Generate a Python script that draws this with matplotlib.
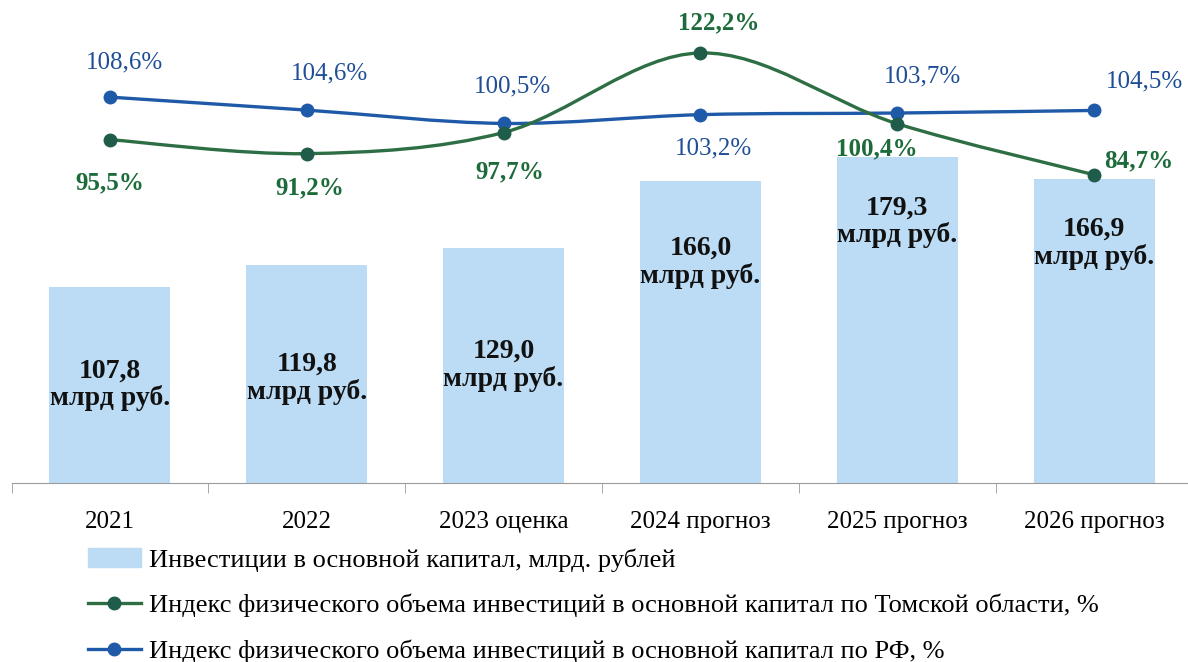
import numpy as np
import matplotlib
matplotlib.use('Agg')
import matplotlib.pyplot as plt
from matplotlib.path import Path
from matplotlib.patches import PathPatch
from matplotlib.lines import Line2D
from matplotlib.patches import Patch

plt.rcParams['font.family'] = ['Liberation Serif', 'DejaVu Serif']

# data
years = ['2021', '2022', '2023 оценка', '2024 прогноз', '2025 прогноз', '2026 прогноз']
invest = [107.8, 119.8, 129.0, 166.0, 179.3, 166.9]
tomsk_idx = [95.5, 91.2, 97.7, 122.2, 100.4, 84.7]
rf_idx = [108.6, 104.6, 100.5, 103.2, 103.7, 104.5]

# layout of labels (pixel offsets from the point)
rf_off = [(15, 35), (23, 37), (9, 37), (13, -34), (25, 37), (50, 29)]
tomsk_off = [(0, -43), (3, -34), (6, -39), (18, 30), (-20, -25), (45, 14)]
bar_lab_frac = [0.5, 0.48, 0.5, 0.73, 0.8, 0.79]

bar_color = '#bcdcf5'
blue = '#1f5aa8'
blue_txt = '#1f4e96'
green = '#2e6e45'
green_mk = '#1f5c4a'
green_txt = '#1d6b3a'


def smooth_path(xs, ys):
    # catmull-rom -> cubic bezier, like a spreadsheet "smoothed line"
    pts = np.column_stack([xs, ys]).astype(float)
    verts = [pts[0]]
    codes = [Path.MOVETO]
    n = len(pts)
    for i in range(n - 1):
        p0 = pts[i - 1] if i > 0 else pts[i]
        p1 = pts[i]
        p2 = pts[i + 1]
        p3 = pts[i + 2] if i + 2 < n else pts[i + 1]
        c1 = p1 + (p2 - p0) / 6.0
        c2 = p2 - (p3 - p1) / 6.0
        verts += [c1, c2, p2]
        codes += [Path.CURVE4] * 3
    return Path(verts, codes)


fig = plt.figure(figsize=(11.88, 6.62), dpi=100)
ax = fig.add_axes([11.5 / 1188, 1 - 483 / 662, 1181 / 1188, 483 / 662])
x = np.arange(len(years))

ax.bar(x, invest, 0.615, color=bar_color, zorder=1)
ax.set_xlim(-0.5, len(years) - 0.5)
ax.set_ylim(0, 265.4)
for s in ['top', 'right', 'left']:
    ax.spines[s].set_visible(False)
ax.spines['bottom'].set_color('#9a9a9a')
ax.set_yticks([])
ax.set_xticks(x)
ax.set_xticklabels(years, fontsize=18)
ax.tick_params(axis='x', which='major', length=0, pad=20)
ax.set_xticks(np.arange(len(years) + 1) - 0.5, minor=True)
ax.tick_params(axis='x', which='minor', length=7, color='#9a9a9a')

for xi, v, f in zip(x, invest, bar_lab_frac):
    ax.text(xi, v * f, ('%.1f' % v).replace('.', ',') + '\nмлрд руб.',
            ha='center', va='center', fontsize=20, fontweight='bold',
            linespacing=1.1, color='#111111', zorder=5)

ax2 = ax.twinx()
ax2.set_ylim(-10.2, 138.5)
ax2.axis('off')

ax2.add_patch(PathPatch(smooth_path(x, rf_idx), fill=False, ec=blue, lw=2.4, zorder=3))
ax2.plot(x, rf_idx, 'o', color=blue, ms=9, zorder=4)
ax2.add_patch(PathPatch(smooth_path(x, tomsk_idx), fill=False, ec=green, lw=2.4, zorder=3))
ax2.plot(x, tomsk_idx, 'o', color=green_mk, ms=9, zorder=4)

for xi, v, (dx, dy) in zip(x, rf_idx, rf_off):
    ax2.annotate(('%.1f' % v).replace('.', ',') + '%', (xi, v),
                 xytext=(dx * 0.72, dy * 0.72), textcoords='offset points',
                 ha='center', va='center', fontsize=18, color=blue_txt)
for xi, v, (dx, dy) in zip(x, tomsk_idx, tomsk_off):
    ax2.annotate(('%.1f' % v).replace('.', ',') + '%', (xi, v),
                 xytext=(dx * 0.72, dy * 0.72), textcoords='offset points',
                 ha='center', va='center', fontsize=18, color=green_txt,
                 fontweight='bold')

handles = [
    Patch(color=bar_color, label='Инвестиции в основной капитал, млрд. рублей'),
    Line2D([], [], color=green, lw=2.4, marker='o', ms=9, mfc=green_mk, mec=green_mk,
           label='Индекс физического объема инвестиций в основной капитал по Томской области, %'),
    Line2D([], [], color=blue, lw=2.4, marker='o', ms=9,
           label='Индекс физического объема инвестиций в основной капитал по РФ, %'),
]
fig.legend(handles=handles, loc='upper left', bbox_to_anchor=(88 / 1188, 1 - 548 / 662),
           frameon=False, fontsize=19, handlelength=2.0, handletextpad=0.3,
           labelspacing=0.85, borderaxespad=0, borderpad=0)

fig.savefig('out.png', dpi=100)
